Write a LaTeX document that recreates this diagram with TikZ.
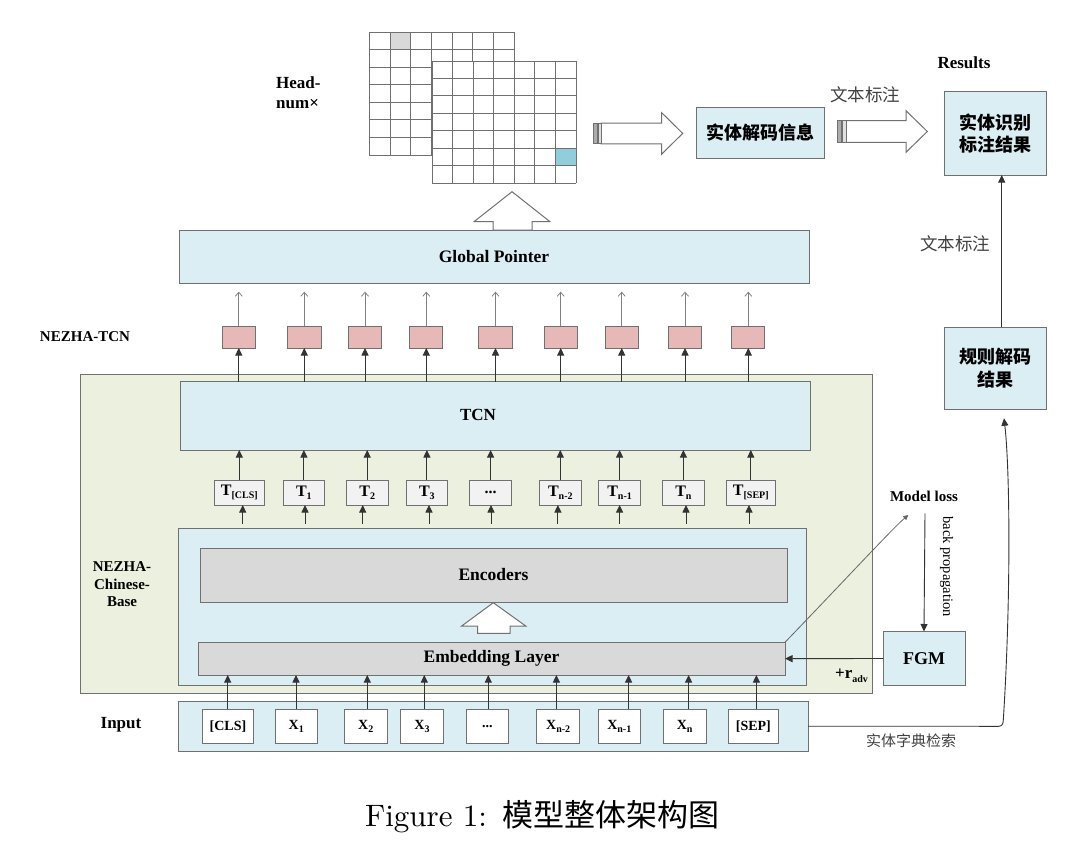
\documentclass[tikz,border=0pt]{standalone}
\usepackage{fontspec}
\newfontfamily\tms{Liberation Serif}
\newfontfamily\cjk{Noto Sans CJK SC}
\newfontfamily\lmten{lmroman10-regular.otf}
\usetikzlibrary{arrows.meta,calc}
\definecolor{lblue}{HTML}{DAEEF3}
\definecolor{lgreen}{HTML}{EBF1DE}
\definecolor{lgray}{HTML}{D9D9D9}
\definecolor{lpink}{HTML}{E6B9B8}
\definecolor{tgray}{HTML}{F2F2F2}
\definecolor{bord}{HTML}{707070}
\definecolor{cyancell}{HTML}{92CDDC}
\definecolor{linec}{HTML}{333333}
\definecolor{txtgray}{HTML}{404040}
\newcommand\mysub[1]{\raisebox{-0.45ex}{\fontsize{10pt}{10pt}\selectfont #1}}
\begin{document}
\begin{tikzpicture}[x=1pt,y=-1pt,
  bx/.style={draw=bord, line width=1pt, inner sep=0pt, outer sep=0pt},
  bf/.style={font={\tms\bfseries\fontsize{#1}{#1}\selectfont}, inner sep=0pt},
  cjkb/.style={font={\cjk\bfseries\fontsize{18pt}{22.6pt}\selectfont}, align=center},
  cjkr/.style={font={\cjk\fontsize{#1}{#1}\selectfont}, text=txtgray, inner sep=0pt},
  arr/.style={-{Triangle[length=7.5pt,width=7pt]}, draw=linec, line width=0.9pt},
  sarr/.style={-{Triangle[length=5pt,width=5pt]}, draw=gray!80!black, line width=0.8pt},
  oarr/.style={-{Straight Barb[length=4pt,width=7pt]}, draw=gray, line width=0.8pt},
  blk/.style={draw=bord, line width=1pt, fill=white, line join=miter}
]
\useasboundingbox (0,0) rectangle (1080,843);

% ---------- grids ----------
\fill[white] (369.3,32.3) rectangle (514,155);
\fill[lgray] (390,32.3) rectangle (410.67,49.83);
\foreach \i in {0,...,7} \draw[bord, line width=0.9pt] (369.3+\i*20.67,32.3) -- (369.3+\i*20.67,155);
\foreach \j in {0,...,7} \draw[bord, line width=0.9pt] (369.3,32.3+\j*17.53) -- (514,32.3+\j*17.53);
\fill[white] (432,61) rectangle (576,183.3);
\fill[cyancell] (555.43,148.35) rectangle (576,165.8);
\foreach \i in {0,...,7} \draw[bord, line width=0.9pt] (432+\i*20.57,61) -- (432+\i*20.57,183.3);
\foreach \j in {0,...,7} \draw[bord, line width=0.9pt] (432,61+\j*17.47) -- (576,61+\j*17.47);

\node[font={\tms\bfseries\fontsize{17pt}{20pt}\selectfont}, align=left, anchor=west, inner sep=0pt] (head) at (276,93) {Head-\\num×};

% ---------- big boxes ----------
\node[bx, fill=lgreen, minimum width=792.5, minimum height=319.5] (nezha) at (476.25,533.75) {};
\node[bx, fill=lblue, minimum width=630, minimum height=53, bf=17.5pt] (gp) at (494,256.5) {Global Pointer};
\node[bx, fill=lblue, minimum width=630, minimum height=68.3] (tcn) at (495,415.85) {};
\node[bf=17pt] (tcnl) at (478,415) {TCN};
\node[bx, fill=lblue, minimum width=628, minimum height=156.7] (base) at (492,606.65) {};
\node[bx, fill=lgray, minimum width=587, minimum height=54, bf=17.5pt] (enc) at (493.5,575) {Encoders};
\node[bx, fill=lgray, minimum width=587, minimum height=32.7, bf=17.5pt] (emb) at (491.5,658.65) {Embedding Layer};
\node[bx, fill=lblue, minimum width=630, minimum height=49.5] (inp) at (493,726.25) {};

% ---------- block arrows ----------
\draw[blk] (493,230) -- (493,221.7) -- (474,221.7) -- (512,191.7) -- (550,221.7) -- (532,221.7) -- (532,230) -- cycle;
\draw[blk] (477.7,633.3) -- (477.7,626) -- (461.7,626) -- (493.3,602.7) -- (525.7,626) -- (510,626) -- (510,633.3) -- cycle;

\draw[blk] (601,123) -- (661.7,123) -- (661.7,112.7) -- (682.7,133.4) -- (661.7,154.1) -- (661.7,143.8) -- (601,143.8) -- cycle;
\draw[bord, line width=0.8pt, fill=gray!65] (593.3,123) rectangle (597.8,143.8);
\draw[bord, line width=0.8pt, fill=gray!25] (598.8,123) rectangle (601,143.8);

\draw[blk] (846,120.7) -- (906,120.7) -- (906,110.7) -- (927.3,131.5) -- (906,152.3) -- (906,142.3) -- (846,142.3) -- cycle;
\draw[bord, line width=0.8pt, fill=gray!65] (837.3,120.7) rectangle (841.8,142.3);
\draw[bord, line width=0.8pt, fill=gray!25] (842.8,120.7) rectangle (846,142.3);

% ---------- right side boxes ----------
\node[bx, fill=lblue, minimum width=128, minimum height=50, cjkb] (dec) at (760,133) {实体解码信息};
\node[bx, fill=lblue, minimum width=102, minimum height=83, cjkb] (res) at (995,133.5) {实体识别\\标注结果};
\node[bx, fill=lblue, minimum width=102, minimum height=82, cjkb] (rule) at (995,368) {规则解码\\结果};
\node[bx, fill=lblue, minimum width=82, minimum height=54, bf=18pt] (fgm) at (924,658.5) {FGM};

\node[bf=17pt] (results) at (964,62.7) {Results};
\node[cjkr=17.5pt] (lab1) at (865,95) {文本标注};
\node[cjkr=17.5pt] (lab2) at (955,243.3) {文本标注};
\node[cjkr=15pt] (lab3) at (911,740.7) {实体字典检索};
\node[bf=15pt] (ml) at (924,496.7) {Model loss};
\node[font={\tms\fontsize{14.5pt}{14.5pt}\selectfont}, rotate=-90, inner sep=0pt] (bp) at (946.7,566.7) {back propagation};
\node[bf=17pt] (radv) at (851.5,675.5) {+r\mysub{adv}};

% ---------- left labels ----------
\node[bf=15pt] (lnt) at (85,337) {NEZHA-TCN};
\node[font={\tms\bfseries\fontsize{15pt}{17.5pt}\selectfont}, align=center, inner sep=0pt] (lncb) at (122,584.3) {NEZHA-\\Chinese-\\Base};
\node[bf=17pt] (linp) at (121,725) {Input};

% ---------- pink boxes ----------
\foreach \n/\cx/\w in {1/238.8/33.5, 2/304.3/33.5, 3/365/33, 4/426.3/33, 5/495.5/33.8, 6/560.7/33.3, 7/621.7/33.4, 8/685/33.3, 9/748.3/33.3}
  \node[bx, fill=lpink, minimum width=\w, minimum height=22] (p\n) at (\cx,337) {};

% ---------- T boxes ----------
\foreach \n/\cx/\w/\lab in {1/239.3/49.6/{T\mysub{[CLS]}}, 2/303.9/41.7/{T\mysub{1}}, 3/367.2/41.6/{T\mysub{2}}, 4/426.9/41.7/{T\mysub{3}}, 5/490.6/41.7/{...}, 6/560.3/42.2/{T\mysub{n-2}}, 7/619.6/41.8/{T\mysub{n-1}}, 8/683.4/41.9/{T\mysub{n}}, 9/750.8/49.1/{T\mysub{[SEP]}}}
  \node[bx, fill=tgray, minimum width=\w, minimum height=25, bf=16pt] (t\n) at (\cx,492.5) {\lab};

% ---------- input boxes ----------
\foreach \n/\cx/\w/\lab in {1/228/50.6/{[CLS]}, 2/296.2/42.3/{X\mysub{1}}, 3/365.8/43/{X\mysub{2}}, 4/422/42.6/{X\mysub{3}}, 5/487.4/42.7/{...}, 6/558.2/42.8/{X\mysub{n-2}}, 7/619.3/42.2/{X\mysub{n-1}}, 8/684.6/42.8/{X\mysub{n}}, 9/753.4/50.4/{[SEP]}}
  \node[bx, fill=white, minimum width=\w, minimum height=34, bf=14pt] (x\n) at (\cx,726.3) {\lab};

% ---------- arrows ----------
\foreach \n in {1,...,9} {
  \draw[oarr] (p\n.north) -- ++(0,-34.3);
  \draw[arr] (p\n.south |- tcn.north) -- (p\n.south);
  \draw[arr] (t\n.north) -- (t\n.north |- tcn.south);
}
\foreach \n/\dx in {1/3.4, 2/1.1, 3/-4.5, 4/2.1, 5/0.4, 6/-2.4, 7/0, 8/2.6, 9/-1.8}
  \draw[arr] ([xshift=\dx pt, yshift=-18.5pt]t\n.south) -- ([xshift=\dx pt]t\n.south);
\foreach \n/\dx in {1/-0.3, 2/-0.2, 3/1.5, 4/2.3, 5/0.9, 6/-1.8, 7/9.3, 8/4, 9/3}
  \draw[arr] ([xshift=\dx pt]x\n.north) -- ([xshift=\dx pt]x\n.north |- emb.south);

\coordinate (mlin) at (908.3,515);
\coordinate (mlout) at (925,513.3);
\draw[sarr] (emb.north east) .. controls (845,580) and (893,528) .. (mlin);
\draw[arr] (mlout) -- (fgm.north);
\draw[arr] (fgm.west) -- (emb.east);
\draw[arr] ([xshift=6.7pt]rule.north) -- ([xshift=6.7pt]res.south);
\coordinate (corner) at (1003.3,720);
\draw[arr] (inp.east) -- (998.5,726.3) .. controls (1001.8,726.3) and (1003.3,724) .. (corner) .. controls (1011,600) and (1010,470) .. ($(rule.south)+(9,9.3)$);

% ---------- caption ----------
\node[font={\lmten\fontsize{31pt}{31pt}\selectfont}, inner sep=0pt] (cap) at (542.5,816.7) {Figure 1:\hspace{16pt}{\cjk 模型整体架构图}};
\end{tikzpicture}
\end{document}
